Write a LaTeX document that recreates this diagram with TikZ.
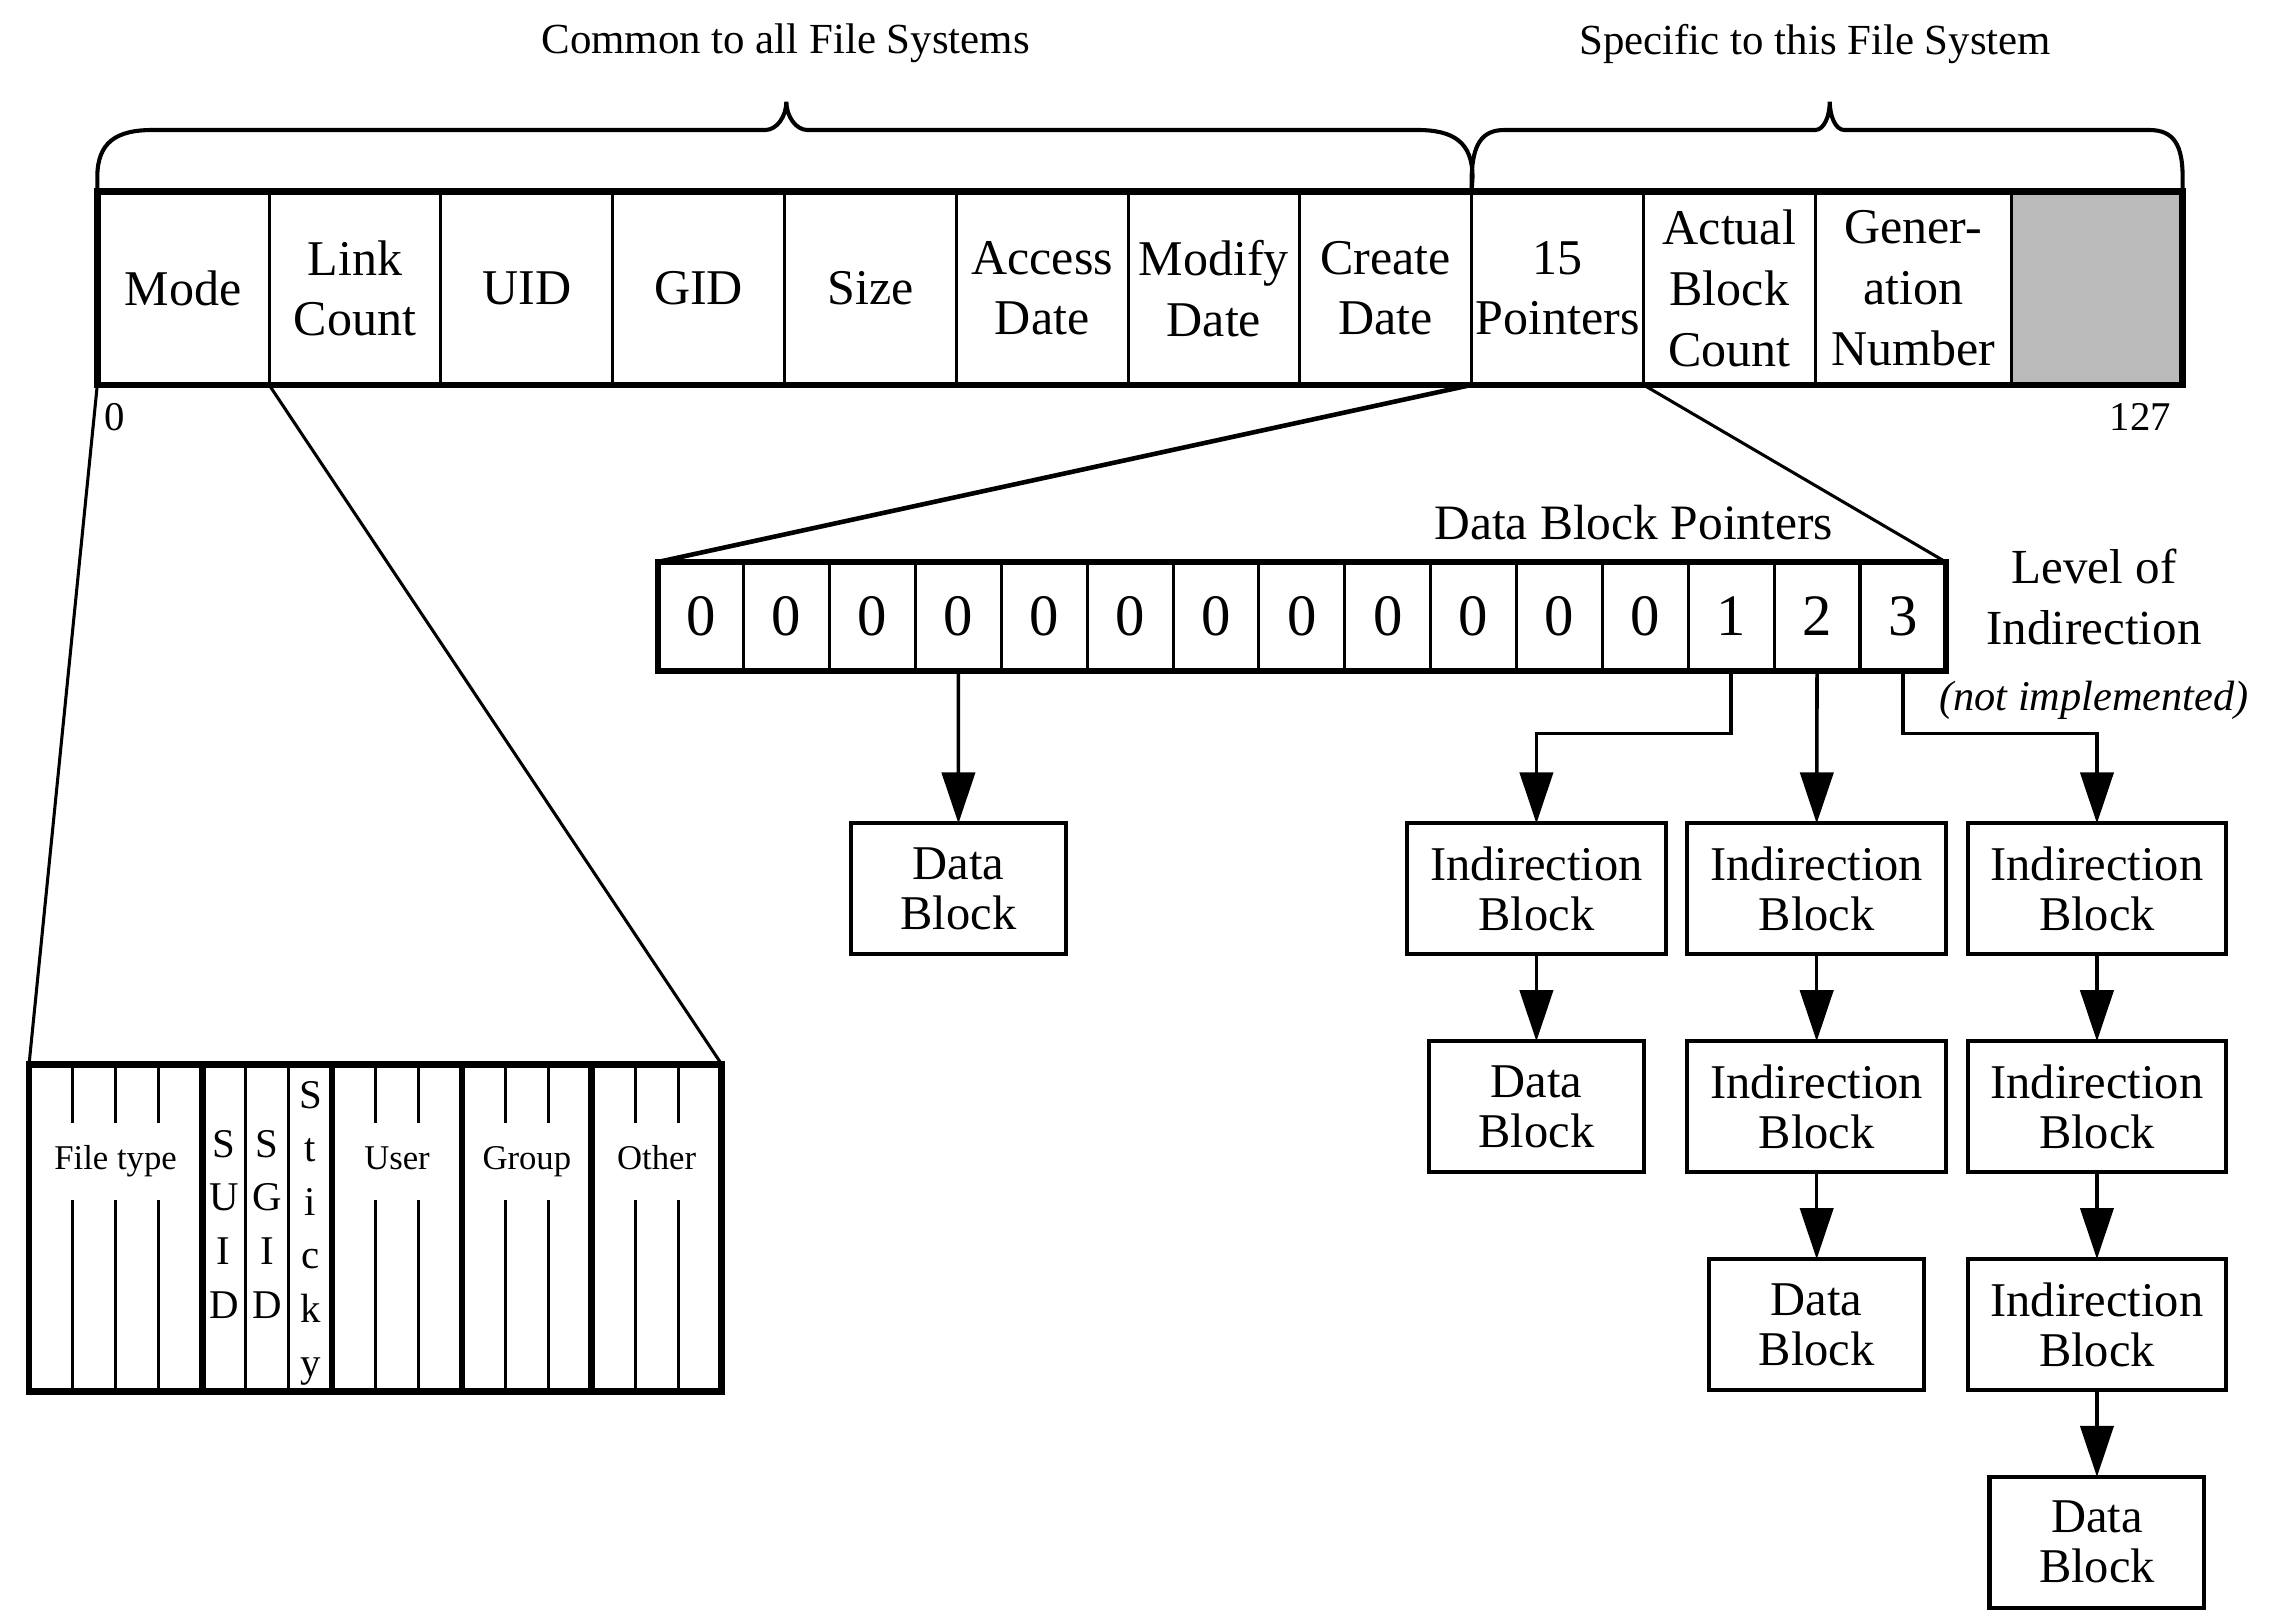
\documentclass[tikz,border=0pt]{standalone}
\usepackage{fontspec}
\setmainfont{Liberation Serif}
\usetikzlibrary{arrows.meta, positioning, calc}

\begin{document}
\begin{tikzpicture}[
  cellline/.style={line width=0.6pt},
  thickborder/.style={line width=1.3pt},
  bracepath/.style={line width=0.8pt},
  inodecell/.style={draw, cellline, minimum width=1.183cm, minimum height=1.33cm, inner sep=0pt, outer sep=0pt, align=center, font=\fontsize{9.8}{11.9}\selectfont},
  ptrcell/.style={draw, cellline, minimum width=0.5913cm, minimum height=0.75cm, inner sep=0pt, outer sep=0pt, font=\fontsize{11.5}{12}\selectfont},
  blockbox/.style={draw, line width=0.8pt, minimum height=0.9cm, inner sep=0pt, outer sep=0pt, align=center, font=\fontsize{9.5}{9.8}\selectfont},
  indbox/.style={blockbox, minimum width=1.78cm},
  databox/.style={blockbox, minimum width=1.48cm},
  ptrarrow/.style={line width=0.7pt, -{Triangle[length=10pt,width=6.5pt]}},
  bracelabel/.style={font=\fontsize{8.4}{10}\selectfont},
  bitlabel/.style={font=\fontsize{6.8}{8}\selectfont, inner sep=0pt, anchor=base},
  bitletters/.style={font=\fontsize{8}{10.5}\selectfont, align=center, inner sep=0pt},
  ]

  \useasboundingbox (0,0) rectangle (15.68,-11.16);

  % inode fields
  \foreach \i/\name/\txt in {0/mode/Mode, 1/links/{Link\\Count}, 2/uid/UID, 3/gid/GID, 4/size/Size,
      5/atime/{Access\\Date}, 6/mtime/{Modify\\Date}, 7/ctime/{Create\\Date},
      8/ptrs/{15\\Pointers}, 9/actual/{Actual\\Block\\Count}}
    \node[inodecell, anchor=west] (\name) at ({0.67+1.183*\i},-1.985) {\txt};
  \node[inodecell, minimum width=1.35cm, right=0pt of actual] (gen) {Gener-\\ation\\Number};
  \node[inodecell, minimum width=1.18cm, fill=black!27, right=0pt of gen] (spare) {};
  \draw[thickborder] (mode.north west) rectangle (spare.south east);
  \node[font=\fontsize{8}{9}\selectfont] (first) at (0.79,-2.87) {0};
  \node[font=\fontsize{8}{9}\selectfont] (last) at (14.74,-2.87) {127};

  % braces
  \draw[bracepath] (mode.north west) -- ++(0,0.10)
    .. controls (0.67,-0.98) and (0.80,-0.895) .. (1.05,-0.895) -- (5.27,-0.895)
    .. controls (5.35,-0.895) and (5.415,-0.80) .. (5.415,-0.70)
    .. controls (5.415,-0.80) and (5.48,-0.895) .. (5.56,-0.895) -- (9.76,-0.895)
    .. controls (10.01,-0.895) and (10.14,-0.98) .. (10.14,-1.22) -- (ptrs.north west);
  \draw[bracepath] (ptrs.north west) -- ++(0,0.10)
    .. controls (10.14,-1.0) and (10.20,-0.895) .. (10.36,-0.895) -- (12.50,-0.895)
    .. controls (12.56,-0.895) and (12.60,-0.80) .. (12.60,-0.70)
    .. controls (12.60,-0.80) and (12.64,-0.895) .. (12.70,-0.895) -- (14.80,-0.895)
    .. controls (14.97,-0.895) and (15.03,-1.0) .. (15.03,-1.22) -- (spare.north east);
  \node[bracelabel] (common) at (5.41,-0.30) {Common to all File Systems};
  \node[bracelabel] (specific) at (12.50,-0.30) {Specific to this File System};

  % mode bits
  \node[draw, thickborder, minimum width=4.77cm, minimum height=2.25cm, inner sep=0pt, outer sep=0pt,
    anchor=north west] (modebits) at (0.20,-7.33) {};
  \foreach \b in {4,7,10,13}
    \draw[thickborder] ({0.20+0.2981*\b},-7.33) -- ++(0,-2.25);
  \foreach \b in {5,6}
    \draw[cellline] ({0.20+0.2981*\b},-7.33) -- ++(0,-2.25);
  \foreach \b in {1,2,3,8,9,11,12,14,15} {
    \draw[cellline] ({0.20+0.2981*\b},-7.33) -- ++(0,-0.40);
    \draw[cellline] ({0.20+0.2981*\b},-8.26) -- (({0.20+0.2981*\b},-9.58);
  }
  \node[bitlabel] (ftype) at (0.796,-8.05) {File type};
  \node[bitlabel] (user) at (2.734,-8.05) {User};
  \node[bitlabel] (group) at (3.628,-8.05) {Group};
  \node[bitlabel] (other) at (4.522,-8.05) {Other};
  \node[bitletters] (suid) at (1.541,-8.43) {S\\U\\I\\D};
  \node[bitletters] (sgid) at (1.839,-8.43) {S\\G\\I\\D};
  \node[bitletters] (sticky) at (2.138,-8.49) {S\\t\\i\\c\\k\\y};
  \draw[cellline] (mode.south west) -- (modebits.north west);
  \draw[cellline] (mode.south east) -- (modebits.north east);

  % block pointers
  \foreach \d [count=\k from 0] in {0,0,0,0,0,0,0,0,0,0,0,0,1,2,3}
    \node[ptrcell, anchor=west] (p\k) at ({4.53+0.5913*\k},-4.245) {\d};
  \draw[thickborder] (p0.north west) rectangle (p14.south east);
  \draw[line width=0.9pt] (ptrs.south west) -- (p0.north west);
  \draw[cellline] (ptrs.south east) -- (p14.north east);
  \node[font=\fontsize{9.7}{11}\selectfont] (ptrlabel) at (11.25,-3.60) {Data Block Pointers};
  \node[align=center, font=\fontsize{9.6}{11.9}\selectfont] (level) at (14.42,-4.11) {Level of\\Indirection};
  \node[font=\fontsize{8.3}{10}\selectfont\itshape] (notimpl) at (14.42,-4.82) {(not implemented)};

  % blocks
  \node[databox] (data0) at (6.60,-6.12) {Data\\Block};
  \node[indbox] (ind1) at (10.58,-6.12) {Indirection\\Block};
  \node[databox, below=0.6cm of ind1] (data1) {Data\\Block};
  \node[indbox] (ind2a) at (12.51,-6.12) {Indirection\\Block};
  \node[indbox, below=0.6cm of ind2a] (ind2b) {Indirection\\Block};
  \node[databox, below=0.6cm of ind2b] (data2) {Data\\Block};
  \node[indbox] (ind3a) at (14.44,-6.12) {Indirection\\Block};
  \node[indbox, below=0.6cm of ind3a] (ind3b) {Indirection\\Block};
  \node[indbox, below=0.6cm of ind3b] (ind3c) {Indirection\\Block};
  \node[databox, below=0.6cm of ind3c] (data3) {Data\\Block};

  \draw[ptrarrow] (p3.south) -- (data0.north);
  \draw[ptrarrow] (p12.south) -- ++(0,-0.43) -| (ind1.north);
  \draw[ptrarrow] (p13.south) -- (ind2a.north);
  \draw[ptrarrow] (p14.south) -- ++(0,-0.43) -| (ind3a.north);
  \draw[ptrarrow] (ind1.south) -- (data1.north);
  \draw[ptrarrow] (ind2a.south) -- (ind2b.north);
  \draw[ptrarrow] (ind2b.south) -- (data2.north);
  \draw[ptrarrow] (ind3a.south) -- (ind3b.north);
  \draw[ptrarrow] (ind3b.south) -- (ind3c.north);
  \draw[ptrarrow] (ind3c.south) -- (data3.north);
\end{tikzpicture}
\end{document}
